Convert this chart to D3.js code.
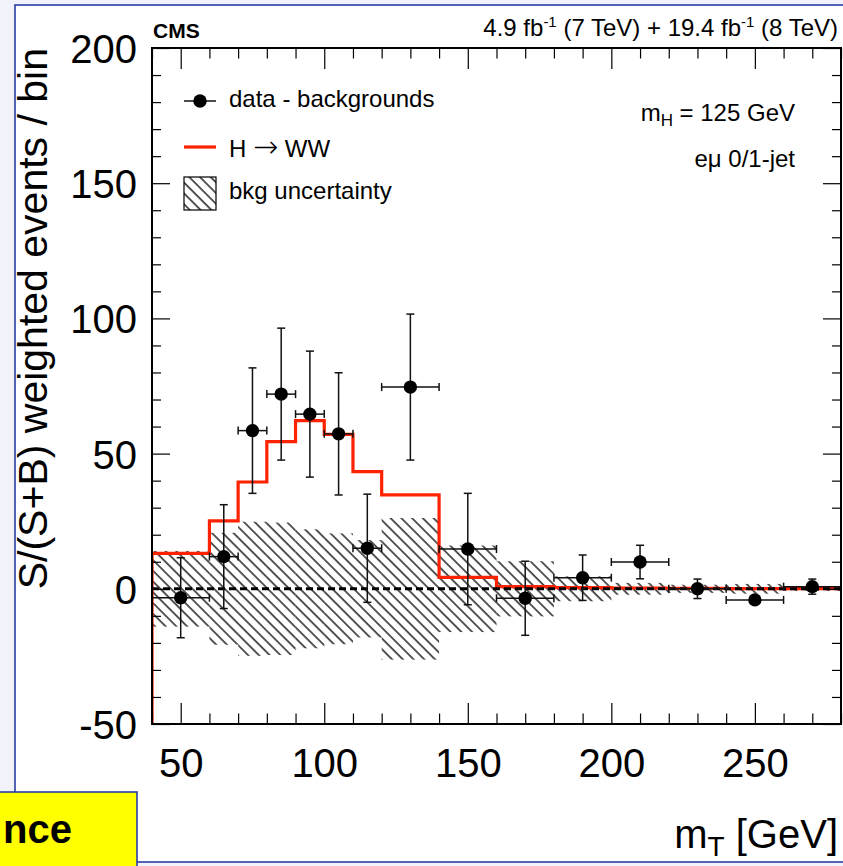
<!DOCTYPE html>
<html>
<head>
<meta charset="utf-8">
<script src="https://cdn.jsdelivr.net/npm/d3@7"></script>
<style>
  html, body { margin: 0; padding: 0; background: #f2f2fa; }
  svg { display: block; font-family: "Liberation Sans", Arial, Helvetica, sans-serif; }
</style>
</head>
<body>
<svg id="chart" width="843" height="866"></svg>
<script>
// m_T binning (GeV) and per-bin contents
const binEdges = [40, 60, 70, 80, 90, 100, 110, 120, 140, 160, 180, 200, 220, 240, 260, 280];
const dataValues = [-3.3, 11.9, 58.5, 72.0, 64.6, 57.3, 15.0, 74.6, 14.7, -3.5, 4.1, 9.9, 0.0, -4.1, 0.8];
const dataErrors = [14.8, 19.2, 23.2, 24.4, 23.3, 22.6, 20.0, 27.0, 20.6, 13.7, 8.4, 6.2, 3.6, 1.2, 2.8];
const signalValues = [13.1, 25.1, 39.5, 54.4, 62.2, 57.1, 43.3, 34.7, 4.2, 0.8, 0.4, 0.3, 0.2, 0.1, 0.1];
const bkgUncertainty = [14.0, 20.7, 24.8, 24.5, 22.0, 20.5, 18.0, 26.2, 16.0, 10.2, 4.6, 2.2, 1.5, 1.8, 0.8];

// axis ticks
const xMajorTicks = [50, 100, 150, 200, 250];
const xMinorTicks = d3.range(40, 281, 10).filter(v => v % 50 !== 0);
const yMajorTicks = [-50, 0, 50, 100, 150, 200];
const yMinorTicks = d3.range(-50, 201, 10).filter(v => v % 50 !== 0);

const W = 843, H = 866;
const frame = { left: 152, right: 841, top: 48, bottom: 724 };
const FONT_BIG = 40;
const fmt = v => String(v); // plain hyphen-minus for negatives

const x = d3.scaleLinear().domain([40, 280]).range([frame.left, frame.right]);
const y = d3.scaleLinear().domain([-50, 200]).range([frame.bottom, frame.top]);

const svg = d3.select("#chart");
const blue = "#2b3ca6";

// slide background, border and label box
svg.append("rect").attr("width", W).attr("height", H).attr("fill", "#f2f2fa");
svg.append("rect")
  .attr("x", 15).attr("y", 5).attr("width", W).attr("height", 862 - 5)
  .attr("fill", "#ffffff").attr("stroke", blue).attr("stroke-width", 1.6);
svg.append("rect")
  .attr("x", -5).attr("y", 792).attr("width", 142).attr("height", 90)
  .attr("fill", "#ffff00").attr("stroke", blue).attr("stroke-width", 1.6);
svg.append("text")
  .attr("x", 72).attr("y", 843).attr("text-anchor", "end")
  .attr("font-size", 40).attr("font-weight", "bold").attr("fill", "#000")
  .text("nce");

// hatch pattern for the background uncertainty
const defs = svg.append("defs");
const pat = defs.append("pattern")
  .attr("id", "hatch").attr("patternUnits", "userSpaceOnUse")
  .attr("width", 7.6).attr("height", 7.6)
  .attr("patternTransform", "rotate(-45)");
pat.append("line").attr("x1", 1).attr("y1", 0).attr("x2", 1).attr("y2", 7.6)
  .attr("stroke", "#000").attr("stroke-width", 1.3);

defs.append("clipPath").attr("id", "frameClip")
  .append("rect")
  .attr("x", frame.left).attr("y", frame.top)
  .attr("width", frame.right - frame.left).attr("height", frame.bottom - frame.top);

const bins = binEdges.slice(0, -1).map((lo, i) => ({
  lo, hi: binEdges[i + 1], c: (lo + binEdges[i + 1]) / 2,
  data: dataValues[i], err: dataErrors[i],
  sig: signalValues[i], unc: bkgUncertainty[i]
}));

const plot = svg.append("g").attr("clip-path", "url(#frameClip)");

// uncertainty band
plot.append("g").selectAll("rect").data(bins).join("rect")
  .attr("x", d => x(d.lo)).attr("width", d => x(d.hi) - x(d.lo))
  .attr("y", d => y(d.unc)).attr("height", d => y(-d.unc) - y(d.unc))
  .attr("fill", "url(#hatch)");

// signal histogram
let sigPath = `M${x(binEdges[0])},${y(-50)}`;
bins.forEach(d => { sigPath += `V${y(d.sig)}H${x(d.hi)}`; });
plot.append("path").attr("d", sigPath)
  .attr("fill", "none").attr("stroke", "#ff2200").attr("stroke-width", 3.2);

// zero line
plot.append("line")
  .attr("x1", frame.left).attr("x2", frame.right)
  .attr("y1", y(0)).attr("y2", y(0))
  .attr("stroke", "#000").attr("stroke-width", 3).attr("stroke-dasharray", "7,4");

// data points with error bars
const pts = plot.append("g").attr("stroke", "#111").attr("stroke-width", 1.5);
const cap = 4;
bins.forEach(d => {
  const g = pts.append("g");
  const cx = x(d.c), cy = y(d.data);
  g.append("line").attr("x1", x(d.lo)).attr("x2", x(d.hi)).attr("y1", cy).attr("y2", cy);
  g.append("line").attr("x1", x(d.lo)).attr("x2", x(d.lo)).attr("y1", cy - cap).attr("y2", cy + cap);
  g.append("line").attr("x1", x(d.hi)).attr("x2", x(d.hi)).attr("y1", cy - cap).attr("y2", cy + cap);
  g.append("line").attr("x1", cx).attr("x2", cx).attr("y1", y(d.data + d.err)).attr("y2", y(d.data - d.err));
  g.append("line").attr("x1", cx - cap).attr("x2", cx + cap).attr("y1", y(d.data + d.err)).attr("y2", y(d.data + d.err));
  g.append("line").attr("x1", cx - cap).attr("x2", cx + cap).attr("y1", y(d.data - d.err)).attr("y2", y(d.data - d.err));
  g.append("circle").attr("cx", cx).attr("cy", cy).attr("r", 6.7).attr("fill", "#000").attr("stroke", "none");
});

// axes: major + minor ticks on all four sides, pointing inward
function styleAxis(g) {
  g.select(".domain").remove();
  g.selectAll(".tick line").attr("stroke", "#000").attr("stroke-width", 1.2);
}
svg.append("g").attr("transform", `translate(0,${frame.bottom})`)
  .call(d3.axisBottom(x).tickValues(xMajorTicks).tickSize(-21).tickFormat(fmt))
  .call(styleAxis)
  .call(g => g.selectAll(".tick text").attr("y", 53).attr("dy", null)
    .attr("font-size", FONT_BIG).attr("fill", "#000").attr("font-family", "Liberation Sans, Arial, sans-serif"));
svg.append("g").attr("transform", `translate(0,${frame.bottom})`)
  .call(d3.axisBottom(x).tickValues(xMinorTicks).tickSize(-10.5).tickFormat(""))
  .call(styleAxis);
svg.append("g").attr("transform", `translate(0,${frame.top})`)
  .call(d3.axisTop(x).tickValues(xMajorTicks).tickSize(-21).tickFormat(""))
  .call(styleAxis);
svg.append("g").attr("transform", `translate(0,${frame.top})`)
  .call(d3.axisTop(x).tickValues(xMinorTicks).tickSize(-10.5).tickFormat(""))
  .call(styleAxis);

svg.append("g").attr("transform", `translate(${frame.left},0)`)
  .call(d3.axisLeft(y).tickValues(yMajorTicks).tickSize(-18).tickFormat(fmt))
  .call(styleAxis)
  .call(g => g.selectAll(".tick text").attr("x", -15).attr("dy", "0.36em")
    .attr("font-size", FONT_BIG).attr("fill", "#000").attr("font-family", "Liberation Sans, Arial, sans-serif"));
svg.append("g").attr("transform", `translate(${frame.left},0)`)
  .call(d3.axisLeft(y).tickValues(yMinorTicks).tickSize(-9).tickFormat(""))
  .call(styleAxis);
svg.append("g").attr("transform", `translate(${frame.right},0)`)
  .call(d3.axisRight(y).tickValues(yMajorTicks).tickSize(-18).tickFormat(""))
  .call(styleAxis);
svg.append("g").attr("transform", `translate(${frame.right},0)`)
  .call(d3.axisRight(y).tickValues(yMinorTicks).tickSize(-9).tickFormat(""))
  .call(styleAxis);

// frame
svg.append("rect")
  .attr("x", frame.left).attr("y", frame.top)
  .attr("width", frame.right - frame.left).attr("height", frame.bottom - frame.top)
  .attr("fill", "none").attr("stroke", "#000").attr("stroke-width", 2);

// axis titles
const xt = svg.append("text")
  .attr("x", 838).attr("y", 848).attr("text-anchor", "end")
  .attr("font-size", FONT_BIG).attr("fill", "#000");
xt.append("tspan").text("m");
xt.append("tspan").attr("font-size", 28).attr("dy", 8).text("T");
xt.append("tspan").attr("dy", -8).text(" [GeV]");

svg.append("text")
  .attr("transform", `translate(47,${frame.top}) rotate(-90)`)
  .attr("text-anchor", "end").attr("font-size", 41).attr("fill", "#000")
  .text("S/(S+B) weighted events / bin");

// header
svg.append("text")
  .attr("x", 153).attr("y", 38).attr("font-size", 21).attr("font-weight", "bold")
  .attr("fill", "#000").text("CMS");
const lumi = svg.append("text")
  .attr("x", 838).attr("y", 36).attr("text-anchor", "end")
  .attr("font-size", 24).attr("fill", "#000");
lumi.append("tspan").text("4.9 fb");
lumi.append("tspan").attr("font-size", 15).attr("dy", -9).text("-1");
lumi.append("tspan").attr("dy", 9).text(" (7 TeV) + 19.4 fb");
lumi.append("tspan").attr("font-size", 15).attr("dy", -9).text("-1");
lumi.append("tspan").attr("dy", 9).text(" (8 TeV)");

// legend
const leg = svg.append("g");
leg.append("line").attr("x1", 184).attr("x2", 216).attr("y1", 101).attr("y2", 101)
  .attr("stroke", "#111").attr("stroke-width", 1.5);
leg.append("circle").attr("cx", 200).attr("cy", 101).attr("r", 6.7).attr("fill", "#000");
leg.append("line").attr("x1", 184).attr("x2", 216).attr("y1", 147).attr("y2", 147)
  .attr("stroke", "#ff2200").attr("stroke-width", 3.2);
leg.append("rect").attr("x", 184).attr("y", 177).attr("width", 32).attr("height", 33)
  .attr("fill", "url(#hatch)").attr("stroke", "#000").attr("stroke-width", 1.2);

const legBase = [107, 157, 199];
leg.append("text").attr("x", 229).attr("y", legBase[0])
  .attr("font-size", 24).attr("fill", "#000").text("data - backgrounds");
const hww = leg.append("text").attr("x", 229).attr("y", legBase[1])
  .attr("font-size", 24).attr("fill", "#000");
hww.append("tspan").text("H ");
hww.append("tspan").attr("font-family", "DejaVu Sans").attr("font-size", 30)
  .attr("font-weight", 200).text("\u2192");
hww.append("tspan").text(" WW");
leg.append("text").attr("x", 229).attr("y", legBase[2])
  .attr("font-size", 24).attr("fill", "#000").text("bkg uncertainty");

// analysis labels
const mh = svg.append("text").attr("x", 795).attr("y", 121).attr("text-anchor", "end")
  .attr("font-size", 24).attr("fill", "#000");
mh.append("tspan").text("m");
mh.append("tspan").attr("font-size", 17).attr("dy", 5).text("H");
mh.append("tspan").attr("dy", -5).text(" = 125 GeV");
svg.append("text").attr("x", 795).attr("y", 167).attr("text-anchor", "end")
  .attr("font-size", 24).attr("fill", "#000").text("e\u03bc 0/1-jet");
</script>
</body>
</html>
